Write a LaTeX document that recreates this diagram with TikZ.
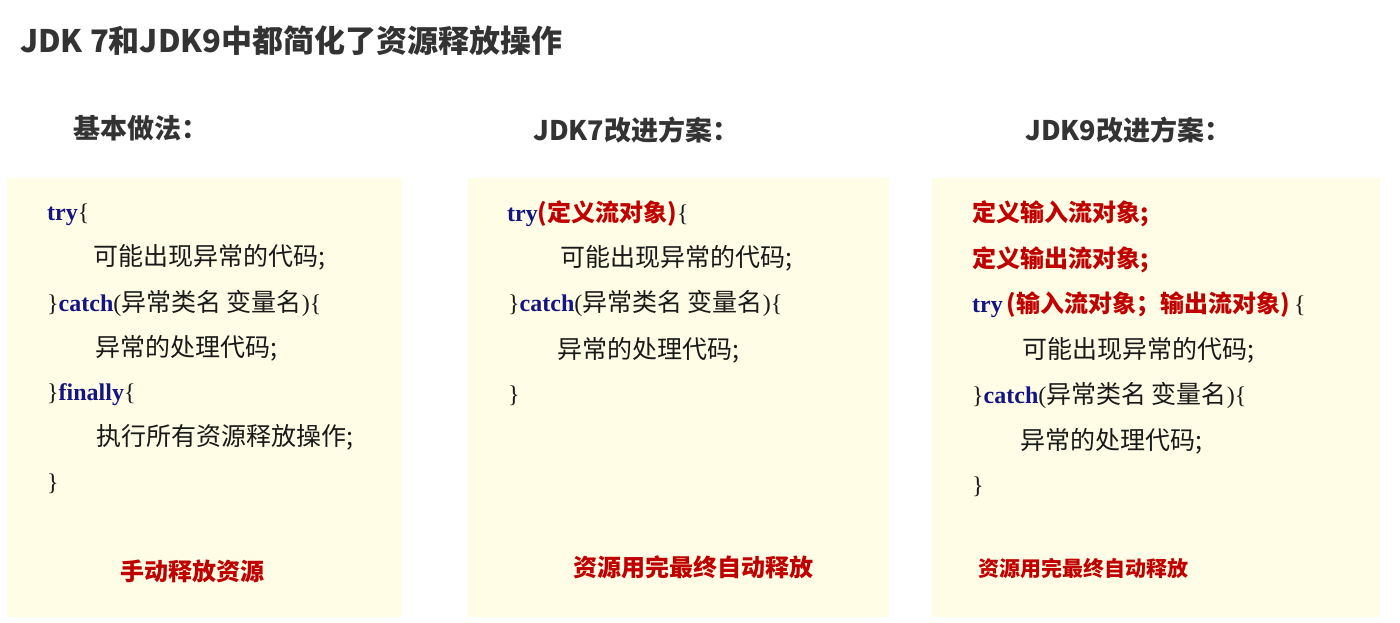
\documentclass[tikz,border=0pt]{standalone}
\usepackage{fontspec}
\setmainfont{Liberation Serif}
\newfontfamily\cjk{Noto Sans CJK SC}
\usepackage{xcolor}
\usetikzlibrary{positioning}

\definecolor{panelfill}{RGB}{255,253,229}
\definecolor{kwblue}{RGB}{20,20,130}
\definecolor{hlred}{RGB}{192,0,0}
\definecolor{headgray}{RGB}{51,51,51}
\definecolor{codeblack}{RGB}{25,25,25}

%% keyword / chinese text / red highlight
\newcommand\kw[1]{{\bfseries\color{kwblue}#1}}
\newcommand\zh[1]{{\cjk\fontsize{25}{28}\selectfont #1}}
\newcommand\hl[1]{{\cjk\bfseries\color{hlred}#1}}

\tikzset{
  %% yellow code panel
  panel/.style={
    rectangle, fill=panelfill, draw=none,
    anchor=north west, inner sep=0pt
  },
  %% column heading
  heading/.style={
    anchor=base west, inner sep=0pt, text=headgray,
    font=\cjk\bfseries\fontsize{27}{30}\selectfont
  },
  %% one line of code
  codeline/.style={
    anchor=base west, inner sep=0pt, text=codeblack,
    font=\fontsize{24}{28}\selectfont
  },
  %% red note at the bottom of a panel
  note/.style={
    anchor=base west, inner sep=0pt, text=hlred,
    font=\cjk\bfseries\fontsize{#1}{28}\selectfont
  },
  note/.default=24,
}

\begin{document}
\begin{tikzpicture}[x=1pt, y=-1pt]
  \useasboundingbox[fill=white] (0,0) rectangle (1400,623);

  %% Title
  \node[anchor=base west, inner sep=0pt, text=headgray,
        font=\cjk\bfseries\fontsize{31}{34}\selectfont]
       (title) at (20,53) {JDK 7和JDK9中都简化了资源释放操作};

  %% Headings
  \node[heading] (basic)    at (73,139)   {基本做法：};
  \node[heading] (jdkseven) at (533,140)  {JDK7改进方案：};
  \node[heading] (jdknine)  at (1025,140) {JDK9改进方案：};

  %% Panels
  \node[panel, minimum width=395, minimum height=439] (basicbox) at (7,178)   {};
  \node[panel, minimum width=421, minimum height=439] (sevenbox) at (468,178) {};
  \node[panel, minimum width=448, minimum height=439] (ninebox)  at (932,178) {};

  %% Basic way
  \node[codeline] (ba) at (47,220)  {\kw{try}\{};
  \node[codeline] (bb) at (93,265)  {\zh{可能出现异常的代码;}};
  \node[codeline] (bc) at (47,311)  {\}\kw{catch}(\zh{异常类名 变量名})\{};
  \node[codeline] (bd) at (95,356)  {\zh{异常的处理代码;}};
  \node[codeline] (be) at (47,400)  {\}\kw{finally}\{};
  \node[codeline] (bf) at (96,445)  {\zh{执行所有资源释放操作;}};
  \node[codeline] (bg) at (47,490)  {\}};
  \node[note]     (bnote) at (120,580) {手动释放资源};

  %% JDK7
  \node[codeline] (sa) at (507,221) {\kw{try}\hl{(定义流对象)}\{};
  \node[codeline] (sb) at (560,266) {\zh{可能出现异常的代码;}};
  \node[codeline] (sc) at (508,311) {\}\kw{catch}(\zh{异常类名 变量名})\{};
  \node[codeline] (sd) at (557,358) {\zh{异常的处理代码;}};
  \node[codeline] (se) at (508,402) {\}};
  \node[note]     (snote) at (573,576) {资源用完最终自动释放};

  %% JDK9
  \node[codeline] (na) at (972,221)  {\hl{定义输入流对象;}};
  \node[codeline] (nb) at (972,267)  {\hl{定义输出流对象;}};
  \node[codeline] (nc) at (972,312)
       {\kw{try}\hl{\,(输入流对象；输出流对象)\,}\{};
  \node[codeline] (nd) at (1022,358) {\zh{可能出现异常的代码;}};
  \node[codeline] (ne) at (972,403)  {\}\kw{catch}(\zh{异常类名 变量名})\{};
  \node[codeline] (nf) at (1020,449) {\zh{异常的处理代码;}};
  \node[codeline] (ng) at (972,493)  {\}};
  \node[note=21]  (nnote) at (978,576) {资源用完最终自动释放};

\end{tikzpicture}
\end{document}
